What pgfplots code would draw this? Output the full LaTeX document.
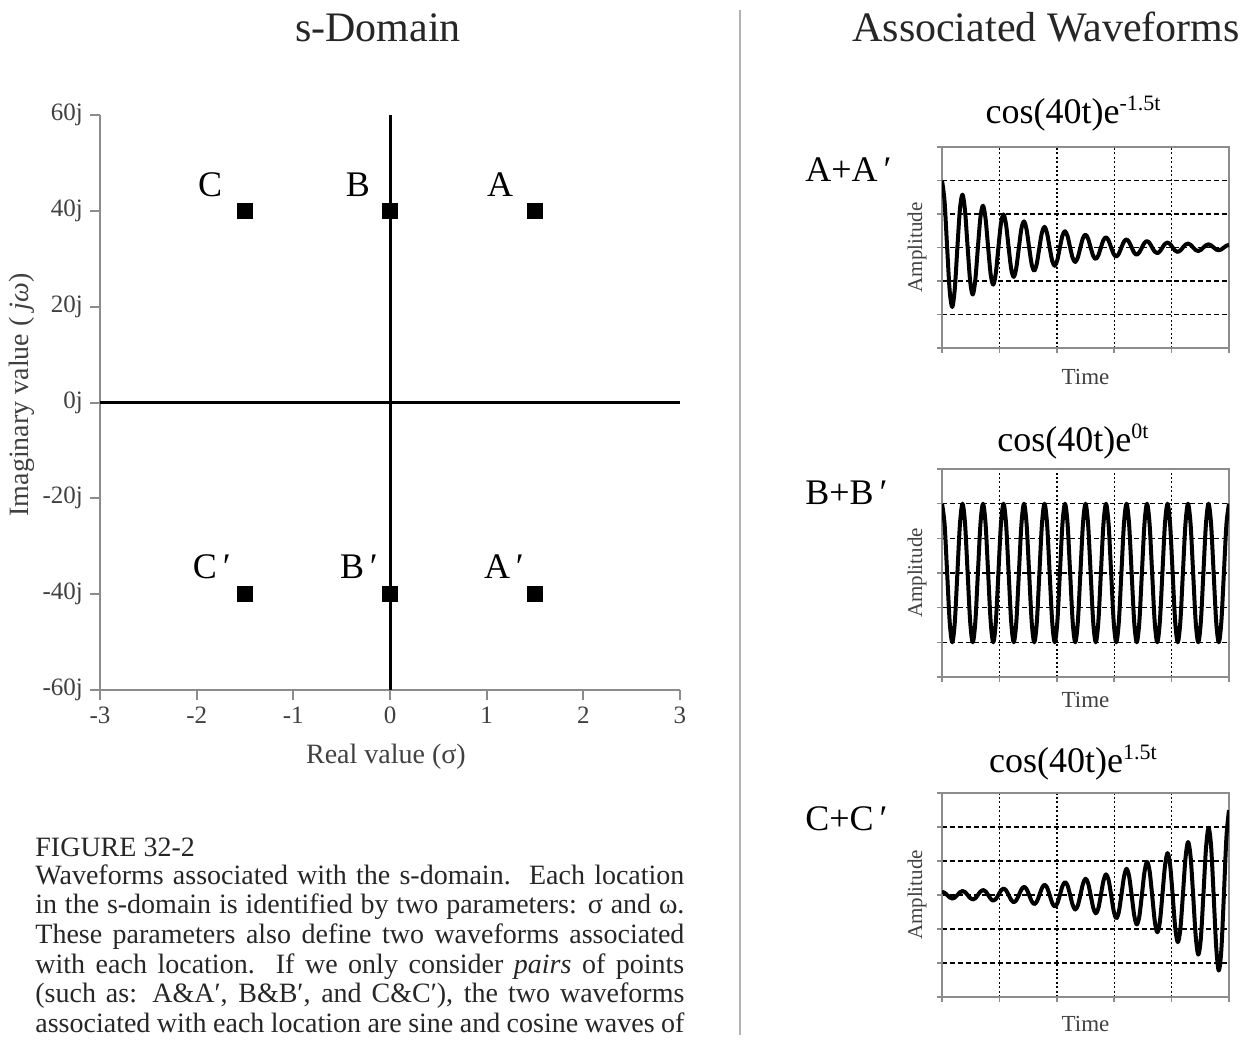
\documentclass[border=0pt]{standalone}
\usepackage{fontspec}
\setmainfont{Liberation Serif}
\usepackage{pgfplots}
\pgfplotsset{compat=1.18}
\definecolor{axgray}{gray}{0.55}
\definecolor{txtgray}{gray}{0.25}
\pgfplotsset{
  wave/.style={
    scale only axis, width=143.5pt,
    xmin=0, xmax=112, ymin=-3, ymax=3,
    xtick={22.4,44.8,67.2,89.6}, ytick={-2,-1,0,1,2},
    extra x ticks={0,112}, extra y ticks={-3,3},
    extra tick style={grid=none},
    xticklabels={}, yticklabels={}, extra x tick labels={}, extra y tick labels={},
    grid=major,
    x grid style={black, line width=0.7pt, dash pattern=on 1pt off 1.2pt},
    y grid style={black, line width=0.7pt, dash pattern=on 2.5pt off 1.5pt},
    axis line style={axgray, line width=1.1pt},
    tick align=outside, tick pos=left, major tick length=2.5pt,
    every tick/.style={axgray, line width=0.8pt},
    ylabel={Amplitude}, xlabel={Time},
    ylabel style={at={(axis description cs:-0.087,0.5)}, anchor=center, font=\fontsize{10.5}{12}\selectfont, text=txtgray},
    xlabel style={anchor=center, font=\fontsize{11.5}{13}\selectfont, text=txtgray},
  },
  wl/.style={black, line width=2pt, smooth, line join=round, mark=none},
}
\begin{document}
\begin{tikzpicture}
\path[use as bounding box] (0,0) rectangle (628pt,519.5pt);

% ---------------- s-domain ----------------
\begin{axis}[
  at={(50pt,174.5pt)}, anchor=south west,
  scale only axis, width=290pt, height=287.5pt,
  xmin=-3, xmax=3, ymin=-60, ymax=60,
  axis x line=bottom, axis y line=left,
  axis line style={-, axgray, line width=1.2pt},
  xtick={-3,-2,-1,0,1,2,3}, xticklabels={-3,-2,-1,0,1,2,3},
  ytick={-60,-40,-20,0,20,40,60}, yticklabels={-60j,-40j,-20j,0j,20j,40j,60j},
  tick align=outside, major tick length=5pt,
  every tick/.style={axgray, line width=1pt},
  ticklabel style={font=\fontsize{12.5}{14}\selectfont, text=txtgray},
  xlabel={Real value (σ)}, ylabel={Imaginary value ( \textit{jω})},
  xlabel style={at={(axis description cs:0.493,-0.1165)}, anchor=center, font=\fontsize{14}{16}\selectfont, text=txtgray},
  ylabel style={at={(axis description cs:-0.1345,0.513)}, anchor=center, font=\fontsize{14}{16}\selectfont, text=txtgray},
]
\addplot[black, line width=1.5pt] coordinates {(-3,0) (3,0)};
\addplot[black, line width=1.5pt] coordinates {(0,-60) (0,60)};
\addplot[only marks, mark=square*, mark size=3.7pt, black] coordinates {(-1.5,40) (0,40) (1.5,40) (-1.5,-40) (0,-40) (1.5,-40)};
\node[font=\fontsize{18}{20}\selectfont] at (axis cs:-1.862,45.5) {C};
\node[font=\fontsize{18}{20}\selectfont] at (axis cs:-0.331,45.5) {B};
\node[font=\fontsize{18}{20}\selectfont] at (axis cs:1.138,45.5) {A};
\node[font=\fontsize{18}{20}\selectfont] at (axis cs:-1.914,-34.2) {C\rlap{\,′}};
\node[font=\fontsize{18}{20}\selectfont] at (axis cs:-0.393,-34.2) {B\rlap{\,′}};
\node[font=\fontsize{18}{20}\selectfont] at (axis cs:1.107,-34.2) {A\rlap{\,′}};
\end{axis}

% ---------------- A ----------------
\begin{axis}[wave, at={(471pt,345.5pt)}, anchor=south west, height=100.5pt,
  xlabel style={at={(axis description cs:0.5,-0.144)}}]
\addplot[wl] coordinates {
(0,2)(1,1.373)(2,0)(3,-1.295)(4,-1.778)(5,-1.221)(6,0)(7,1.151)
(8,1.580)(9,1.085)(10,0)(11,-1.023)(12,-1.405)(13,-0.964)(14,0)(15,0.909)
(16,1.248)(17,0.857)(18,0)(19,-0.808)(20,-1.110)(21,-0.762)(22,0)(23,0.718)
(24,0.986)(25,0.677)(26,0)(27,-0.639)(28,-0.877)(29,-0.602)(30,0)(31,0.568)
(32,0.779)(33,0.535)(34,0)(35,-0.504)(36,-0.693)(37,-0.476)(38,0)(39,0.448)
(40,0.616)(41,0.423)(42,0)(43,-0.399)(44,-0.547)(45,-0.376)(46,0)(47,0.354)
(48,0.486)(49,0.334)(50,0)(51,-0.315)(52,-0.432)(53,-0.297)(54,0)(55,0.280)
(56,0.384)(57,0.264)(58,0)(59,-0.249)(60,-0.342)(61,-0.235)(62,0)(63,0.221)
(64,0.304)(65,0.209)(66,0)(67,-0.197)(68,-0.270)(69,-0.185)(70,0)(71,0.175)
(72,0.240)(73,0.165)(74,0)(75,-0.155)(76,-0.213)(77,-0.146)(78,0)(79,0.138)
(80,0.190)(81,0.130)(82,0)(83,-0.123)(84,-0.169)(85,-0.116)(86,0)(87,0.109)
(88,0.150)(89,0.103)(90,0)(91,-0.097)(92,-0.133)(93,-0.091)(94,0)(95,0.086)
(96,0.118)(97,0.081)(98,0)(99,-0.077)(100,-0.105)(101,-0.072)(102,0)(103,0.068)
(104,0.094)(105,0.064)(106,0)(107,-0.061)(108,-0.083)(109,-0.057)(110,0)(111,0.054)
(112,0.074)};
\end{axis}

% ---------------- B ----------------
\begin{axis}[wave, at={(471pt,181pt)}, anchor=south west, height=104pt,
  xlabel style={at={(axis description cs:0.5,-0.11)}}]
\addplot[wl] coordinates {
(0,2)(1,1.414)(2,0)(3,-1.414)(4,-2)(5,-1.414)(6,0)(7,1.414)
(8,2)(9,1.414)(10,0)(11,-1.414)(12,-2)(13,-1.414)(14,0)(15,1.414)
(16,2)(17,1.414)(18,0)(19,-1.414)(20,-2)(21,-1.414)(22,0)(23,1.414)
(24,2)(25,1.414)(26,0)(27,-1.414)(28,-2)(29,-1.414)(30,0)(31,1.414)
(32,2)(33,1.414)(34,0)(35,-1.414)(36,-2)(37,-1.414)(38,0)(39,1.414)
(40,2)(41,1.414)(42,0)(43,-1.414)(44,-2)(45,-1.414)(46,0)(47,1.414)
(48,2)(49,1.414)(50,0)(51,-1.414)(52,-2)(53,-1.414)(54,0)(55,1.414)
(56,2)(57,1.414)(58,0)(59,-1.414)(60,-2)(61,-1.414)(62,0)(63,1.414)
(64,2)(65,1.414)(66,0)(67,-1.414)(68,-2)(69,-1.414)(70,0)(71,1.414)
(72,2)(73,1.414)(74,0)(75,-1.414)(76,-2)(77,-1.414)(78,0)(79,1.414)
(80,2)(81,1.414)(82,0)(83,-1.414)(84,-2)(85,-1.414)(86,0)(87,1.414)
(88,2)(89,1.414)(90,0)(91,-1.414)(92,-2)(93,-1.414)(94,0)(95,1.414)
(96,2)(97,1.414)(98,0)(99,-1.414)(100,-2)(101,-1.414)(102,0)(103,1.414)
(104,2)(105,1.414)(106,0)(107,-1.414)(108,-2)(109,-1.414)(110,0)(111,1.414)
(112,2)};
\end{axis}

% ---------------- C ----------------
\begin{axis}[wave, at={(471pt,21pt)}, anchor=south west, height=102pt,
  xlabel style={at={(axis description cs:0.5,-0.132)}}]
\addplot[wl] coordinates {
(0,0.092)(1,0.067)(2,0)(3,-0.071)(4,-0.104)(5,-0.076)(6,0)(7,0.080)
(8,0.117)(9,0.085)(10,0)(11,-0.090)(12,-0.131)(13,-0.096)(14,0)(15,0.101)
(16,0.148)(17,0.108)(18,0)(19,-0.114)(20,-0.166)(21,-0.121)(22,0)(23,0.129)
(24,0.188)(25,0.136)(26,0)(27,-0.145)(28,-0.211)(29,-0.154)(30,0)(31,0.163)
(32,0.238)(33,0.173)(34,0)(35,-0.183)(36,-0.266)(37,-0.194)(38,0)(39,0.206)
(40,0.300)(41,0.219)(42,0)(43,-0.231)(44,-0.338)(45,-0.246)(46,0)(47,0.261)
(48,0.380)(49,0.276)(50,0)(51,-0.294)(52,-0.428)(53,-0.311)(54,0)(55,0.330)
(56,0.480)(57,0.350)(58,0)(59,-0.371)(60,-0.540)(61,-0.394)(62,0)(63,0.418)
(64,0.608)(65,0.443)(66,0)(67,-0.470)(68,-0.684)(69,-0.499)(70,0)(71,0.529)
(72,0.770)(73,0.560)(74,0)(75,-0.595)(76,-0.866)(77,-0.630)(78,0)(79,0.669)
(80,0.974)(81,0.710)(82,0)(83,-0.753)(84,-1.096)(85,-0.799)(86,0)(87,0.846)
(88,1.233)(89,0.898)(90,0)(91,-0.953)(92,-1.388)(93,-1.010)(94,0)(95,1.071)
(96,1.560)(97,1.136)(98,0)(99,-1.205)(100,-1.756)(101,-1.279)(102,0)(103,1.356)
(104,1.975)(105,1.439)(106,0)(107,-1.526)(108,-2.223)(109,-1.619)(110,0)(111,1.716)
(112,2.5)};
\end{axis}

% ---------------- texts ----------------
\node[anchor=base, font=\fontsize{21}{24}\selectfont, text=black!85] at (189pt,498.5pt) {s-Domain};
\node[anchor=base, font=\fontsize{21}{24}\selectfont, text=black!85] at (523pt,498.5pt) {Associated Waveforms};
\draw[gray!60, line width=1.2pt] (370pt,514.5pt) -- (370pt,2pt);

\node[anchor=base west, inner sep=0pt, font=\fontsize{18}{20}\selectfont] at (402.5pt,428.5pt) {A+A\,′};
\node[anchor=base west, inner sep=0pt, font=\fontsize{18}{20}\selectfont] at (402.5pt,267pt) {B+B\,′};
\node[anchor=base west, inner sep=0pt, font=\fontsize{18}{20}\selectfont] at (402.5pt,104.5pt) {C+C\,′};

\node[anchor=base, inner sep=0pt, font=\fontsize{18}{20}\selectfont] at (536.5pt,457.5pt) {cos(40t)e\raisebox{6.5pt}{\fontsize{11}{12}\selectfont -1.5t}};
\node[anchor=base, inner sep=0pt, font=\fontsize{18}{20}\selectfont] at (536.5pt,293.5pt) {cos(40t)e\raisebox{6.5pt}{\fontsize{11}{12}\selectfont 0t}};
\node[anchor=base, inner sep=0pt, font=\fontsize{18}{20}\selectfont] at (536.5pt,133.5pt) {cos(40t)e\raisebox{6.5pt}{\fontsize{11}{12}\selectfont 1.5t}};

\begin{scope}[every node/.style={anchor=base west, inner sep=0pt, font=\fontsize{14}{15}\selectfont, text=black!85}]
\node at (17.5pt,91.5pt) {FIGURE 32-2};
\node at (17.5pt,77.5pt) {\makebox[324.5pt][s]{Waveforms associated with the s-domain.\ \ Each location}};
\node at (17.5pt,62.65pt) {\makebox[324.5pt][s]{in the s-domain is identified by two parameters: σ and ω.}};
\node at (17.5pt,47.8pt) {\makebox[324.5pt][s]{These parameters also define two waveforms associated}};
\node at (17.5pt,33pt) {\makebox[324.5pt][s]{with each location.\ \ If we only consider \textit{pairs} of points}};
\node at (17.5pt,18.1pt) {\makebox[324.5pt][s]{(such as: A\&A′, B\&B′, and C\&C′), the two waveforms}};
\node at (17.5pt,3.25pt) {\makebox[324.5pt][s]{associated with each location are sine and cosine waves of}};
\end{scope}
\end{tikzpicture}
\end{document}
